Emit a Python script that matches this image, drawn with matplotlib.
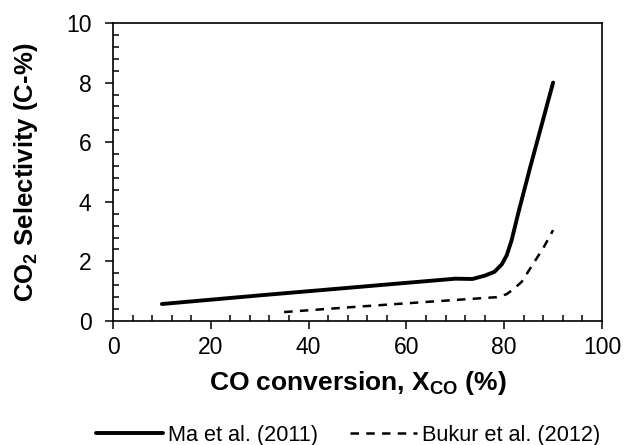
import matplotlib
matplotlib.use('Agg')
import matplotlib.pyplot as plt
import matplotlib.ticker as ticker

plt.rcParams['font.family'] = 'Liberation Sans'
plt.rcParams['mathtext.fontset'] = 'custom'
plt.rcParams['mathtext.rm'] = 'Liberation Sans'
plt.rcParams['mathtext.bf'] = 'Liberation Sans:bold'

# Ma et al. (2011)
ma_x = [10, 30, 50, 70, 73.5, 76, 78, 79.5, 80.5, 81.5, 83, 85.3, 90]
ma_y = [0.57, 0.86, 1.14, 1.42, 1.41, 1.52, 1.65, 1.9, 2.2, 2.7, 3.7, 5.15, 8.0]

# Bukur et al. (2012)
bukur_x = [35, 50, 65, 78.5, 80.5, 82, 83.6, 86, 88, 90]
bukur_y = [0.3, 0.48, 0.65, 0.8, 0.9, 1.08, 1.32, 1.94, 2.45, 3.05]

fig = plt.figure(figsize=(6.24, 4.45), dpi=100)
ax = fig.add_axes([113/624, 1 - 321/445, (602-113)/624, (321-23)/445])

ax.plot(ma_x, ma_y, color='black', lw=2.8, solid_capstyle='round', solid_joinstyle='round',
        label='Ma et al. (2011)')
ax.plot(bukur_x, bukur_y, color='black', lw=1.8, dashes=(3.4, 2.9), label='Bukur et al. (2012)')

ax.set_xlim(0, 100)
ax.set_ylim(0, 10)
ax.xaxis.set_major_locator(ticker.MultipleLocator(20))
ax.xaxis.set_minor_locator(ticker.MultipleLocator(4))
ax.yaxis.set_major_locator(ticker.MultipleLocator(2))
ax.yaxis.set_minor_locator(ticker.MultipleLocator(0.4))
ax.tick_params(which='major', direction='out', length=5.5, width=1.1, labelsize=16.5)
ax.tick_params(axis='x', which='major', pad=5.5)
ax.tick_params(axis='y', which='major', pad=10)
ax.tick_params(which='minor', direction='in', length=4.5, width=1.1)
for s in ax.spines.values():
    s.set_linewidth(1.2)

ax.set_xlabel('CO conversion, X$_{\\mathbf{CO}}$ (%)', fontsize=19, fontweight='bold', labelpad=7)
ax.set_ylabel('CO$_{\\mathbf{2}}$ Selectivity (C-%)', fontsize=18.5, fontweight='bold', labelpad=19)

fig.legend(loc='center', bbox_to_anchor=(348/624, 1 - 435/445), ncol=2, frameon=False,
           fontsize=15.6, handlelength=3.1, columnspacing=1.5, handletextpad=0.2)

fig.savefig('out.png', dpi=100)
